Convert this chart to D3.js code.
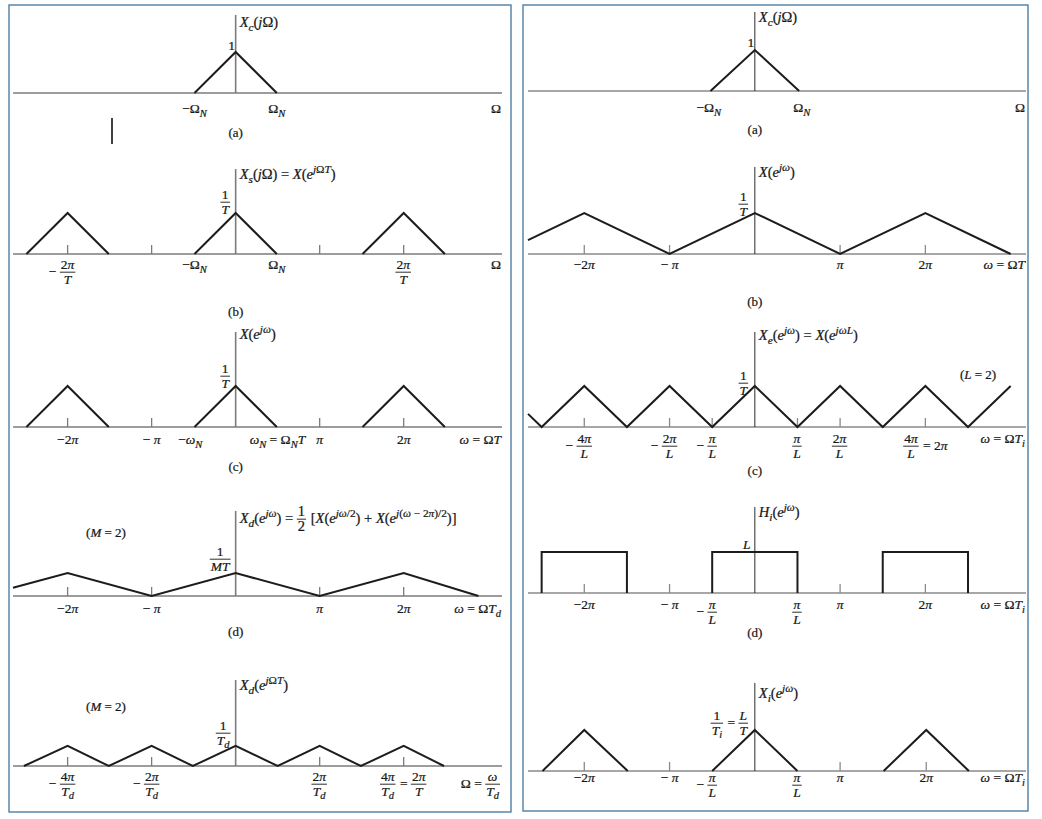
<!DOCTYPE html>
<html><head><meta charset="utf-8">
<script src="https://cdn.jsdelivr.net/npm/d3@7"></script>
<style>
body{margin:0;background:#fff}
svg{display:block}
text{font-family:"Liberation Serif","Times New Roman",serif;fill:#161616;stroke:#161616;stroke-width:0.22;white-space:pre}
</style>
</head><body>
<svg id="c" width="1042" height="819"></svg>
<script>
// ================= DATA (x in units of π on each panel's frequency axis, y relative to peak 1/T) =================
// Left column (sampling / downsampling)
const curvesLA = [[[-0.49,0],[0,1],[0.49,0]]];
const curvesLB = [[[-2.49,0],[-2,1],[-1.51,0]],[[-0.49,0],[0,1],[0.49,0]],[[1.51,0],[2,1],[2.49,0]]];
const curvesLC = [[[-2.49,0],[-2,1],[-1.51,0]],[[-0.49,0],[0,1],[0.49,0]],[[1.51,0],[2,1],[2.49,0]]];
const curvesLD = [[[-2.65,0.2],[-2,0.56],[-1,0],[0,0.56],[1,0],[2,0.56],[2.89,0]]];
const curvesLE = [[[-2.52,0],[-2,0.49],[-1.51,0],[-1,0.49],[-0.51,0],[0,0.49],[0.5,0],[1,0.49],[1.49,0],[2,0.49],[2.48,0]]];
// Right column (upsampling / interpolation)
const curvesRA = [[[-0.52,0],[0,1],[0.52,0]]];
const curvesRB = [[[-2.66,0.34],[-2,1],[-1,0],[0,1],[1,0],[2,1],[3,0]]];
const curvesRC = [[[-2.66,0.32],[-2.5,0],[-2,1],[-1.5,0],[-1,1],[-0.5,0],[0,1],[0.5,0],[1,1],[1.5,0],[2,1],[2.5,0],[3,1]]];
const curvesRD = [[[-2.5,0],[-2.5,1],[-1.5,1],[-1.5,0]],[[-0.5,0],[-0.5,1],[0.5,1],[0.5,0]],[[1.5,0],[1.5,1],[2.5,1],[2.5,0]]];
const curvesRE = [[[-2.49,0],[-2,1],[-1.49,0]],[[-0.5,0],[0,1],[0.5,0]],[[1.51,0],[2.01,1],[2.51,0]]];

// tick positions (units of π)
const ticksLA = [];
const ticksLB = [-2,-1,1,2];
const ticksLC = [-2,-1,1,2];
const ticksLD = [-2,-1,1,2];
const ticksLE = [-2,-1,1,2];
const ticksRA = [];
const ticksRB = [-2,-1,1,2];
const ticksRC = [-2,-1,-0.5,0.5,1,2];
const ticksRD = [-2,-1,1,2];
const ticksRE = [-2,-1,1,2.01];

// tick labels  (markup: *..* italic, _{..} subscript, ^{..} superscript; {n,d} = fraction)
const labelsLA = [
  {v:-0.49, items:["−Ω_{*N*}"]},
  {v:0.49, items:["Ω_{*N*}"]},
  {v:"end", items:["Ω"]}];
const labelsLB = [
  {v:-2, items:["− ",{n:"2π",d:"*T*"}], anchor:"frac"},
  {v:-0.49, items:["−Ω_{*N*}"]},
  {v:0.49, items:["Ω_{*N*}"]},
  {v:2, items:[{n:"2π",d:"*T*"}]},
  {v:"end", items:["Ω"]}];
const labelsLC = [
  {v:-2, items:["−2π"]},
  {v:-1, items:["− π"]},
  {v:-0.54, items:["−ω_{*N*}"]},
  {v:0.167, items:["ω_{*N*} = Ω_{*N*}*T*"], anchor:"start"},
  {v:1, items:["π"]},
  {v:2, items:["2π"]},
  {v:"end", items:["ω = Ω*T*"]}];
const labelsLD = [
  {v:-2, items:["−2π"]},
  {v:-1, items:["− π"]},
  {v:1, items:["π"]},
  {v:2, items:["2π"]},
  {v:"end", items:["ω = Ω*T*_{*d*}"]}];
const labelsLE = [
  {v:-2, items:["− ",{n:"4π",d:"*T*_{*d*}"}], anchor:"frac"},
  {v:-1, items:["− ",{n:"2π",d:"*T*_{*d*}"}], anchor:"frac"},
  {v:1, items:[{n:"2π",d:"*T*_{*d*}"}]},
  {v:2, items:[{n:"4π",d:"*T*_{*d*}"}," = ",{n:"2π",d:"*T*"}]},
  {v:"end", items:["Ω = ",{n:"ω",d:"*T*_{*d*}"}]}];
const labelsRA = [
  {v:-0.54, items:["−Ω_{*N*}"]},
  {v:0.55, items:["Ω_{*N*}"]},
  {v:"end", items:["Ω"]}];
const labelsRB = [
  {v:-2, items:["−2π"]},
  {v:-1, items:["− π"]},
  {v:1, items:["π"]},
  {v:2, items:["2π"]},
  {v:"end", items:["ω = Ω*T*"]}];
const labelsRC = [
  {v:-2, items:["− ",{n:"4π",d:"*L*"}], anchor:"frac"},
  {v:-1, items:["− ",{n:"2π",d:"*L*"}], anchor:"frac"},
  {v:-0.5, items:["− ",{n:"π",d:"*L*"}], anchor:"frac"},
  {v:0.5, items:[{n:"π",d:"*L*"}]},
  {v:1, items:[{n:"2π",d:"*L*"}]},
  {v:2, items:[{n:"4π",d:"*L*"}," = 2π"]},
  {v:"end", items:["ω = Ω*T*_{*i*}"]}];
const labelsRD = [
  {v:-2, items:["−2π"]},
  {v:-1, items:["− π"]},
  {v:-0.5, items:["− ",{n:"π",d:"*L*"}], anchor:"frac"},
  {v:0.5, items:[{n:"π",d:"*L*"}]},
  {v:1, items:["π"]},
  {v:2, items:["2π"]},
  {v:"end", items:["ω = Ω*T*_{*i*}"]}];
const labelsRE = [
  {v:-2, items:["−2π"]},
  {v:-1, items:["− π"]},
  {v:-0.5, items:["− ",{n:"π",d:"*L*"}], anchor:"frac"},
  {v:0.5, items:[{n:"π",d:"*L*"}]},
  {v:1, items:["π"]},
  {v:2.01, items:["2π"]},
  {v:"end", items:["ω = Ω*T*_{*i*}"]}];

// vertical-axis titles
const titleLA = ["*X*_{*c*}(*j*Ω)"];
const titleLB = ["*X*_{*s*}(*j*Ω) = *X*(*e*^{*j*Ω*T*})"];
const titleLC = ["*X*(*e*^{*j*ω})"];
const titleLD = ["*X*_{*d*}(*e*^{*j*ω}) = ",{n:"1",d:"2"}," [*X*(*e*^{*j*ω/2}) + *X*(*e*^{*j*(ω − 2π)/2})]"];
const titleLE = ["*X*_{*d*}(*e*^{*j*Ω*T*})"];
const titleRA = ["*X*_{*c*}(*j*Ω)"];
const titleRB = ["*X*(*e*^{*j*ω})"];
const titleRC = ["*X*_{*e*}(*e*^{*j*ω}) = *X*(*e*^{*j*ω*L*})"];
const titleRD = ["*H*_{*i*}(*e*^{*j*ω})"];
const titleRE = ["*X*_{*i*}(*e*^{*j*ω})"];

// peak-height labels
const peakLA = ["1"];
const peakLB = [{n:"1",d:"*T*"}];
const peakLC = [{n:"1",d:"*T*"}];
const peakLD = [{n:"1",d:"*MT*"}];
const peakLE = [{n:"1",d:"*T*_{*d*}"}];
const peakRA = ["1"];
const peakRB = [{n:"1",d:"*T*"}];
const peakRC = [{n:"1",d:"*T*"}];
const peakRD = ["*L*"];
const peakRE = [{n:"1",d:"*T*_{*i*}"}," = ",{n:"*L*",d:"*T*"}];

const captions = ["(a)","(b)","(c)","(d)"];
const noteM = ["(*M* = 2)"];
const noteL = ["(*L* = 2)"];

// ================= LAYOUT =================
const panels = [
  {frame:[9,5,502,807], domain:[-2.65,3.17], range:[13,502], hColor:"#7b7b7b", vColor:"#7b7b7b", vWidth:1.6},
  {frame:[523,5,505,806], domain:[-2.66,3.18], range:[528,1026], hColor:"#8a8a8a", vColor:"#2a2a2a", vWidth:1}
];
const subplots = [
  {p:0, axisY:93,  topY:15,  curves:curvesLA, ticks:ticksLA, labels:labelsLA, labelY:113, title:titleLA, titleY:27,  cap:0, capY:137, peak:peakLA, peakDx:-4,  peakY:50},
  {p:0, axisY:254, topY:169, curves:curvesLB, ticks:ticksLB, labels:labelsLB, labelY:269, title:titleLB, titleY:179, cap:1, capY:316, peak:peakLB, peakDx:-10, peakY:199},
  {p:0, axisY:427, topY:332, curves:curvesLC, ticks:ticksLC, labels:labelsLC, labelY:444, title:titleLC, titleY:339, cap:2, capY:471, peak:peakLC, peakDx:-10, peakY:373},
  {p:0, axisY:596, topY:511, curves:curvesLD, ticks:ticksLD, labels:labelsLD, labelY:613, title:titleLD, titleY:523, cap:3, capY:636, peak:peakLD, peakDx:-15, peakY:556},
  {p:0, axisY:766, topY:680, curves:curvesLE, ticks:ticksLE, labels:labelsLE, labelY:781, title:titleLE, titleY:690, cap:-1, capY:0,  peak:peakLE, peakDx:-12, peakY:730},
  {p:1, axisY:91,  topY:12,  curves:curvesRA, ticks:ticksRA, labels:labelsRA, labelY:112, title:titleRA, titleY:22,  cap:0, capY:134, peak:peakRA, peakDx:-4,  peakY:47},
  {p:1, axisY:254, topY:167, curves:curvesRB, ticks:ticksRB, labels:labelsRB, labelY:269, title:titleRB, titleY:177, cap:1, capY:306, peak:peakRB, peakDx:-11, peakY:201},
  {p:1, axisY:427, topY:332, curves:curvesRC, ticks:ticksRC, labels:labelsRC, labelY:443, title:titleRC, titleY:340, cap:2, capY:475, peak:peakRC, peakDx:-11, peakY:380},
  {p:1, axisY:593, topY:507, curves:curvesRD, ticks:ticksRD, labels:labelsRD, labelY:609, title:titleRD, titleY:517, cap:3, capY:637, peak:peakRD, peakDx:-8,  peakY:549},
  {p:1, axisY:771, topY:683, curves:curvesRE, ticks:ticksRE, labels:labelsRE, labelY:782, title:titleRE, titleY:698, cap:-1, capY:0,  peak:peakRE, peakDx:-25, peakY:720}
];
const notes = [
  {items:noteM, x:106, y:537},
  {items:noteM, x:106, y:711},
  {items:noteL, x:978, y:379}
];
const UNIT = 41;      // px per unit height
const FS = 13.5, FS_T = 14.5, FS_C = 13, SUB = 0.78;

// ================= RENDER =================
const svg = d3.select("#c");
svg.append("rect").attr("width",1042).attr("height",819).attr("fill","#fff");

function rich(t, src, fs){
  let italic=false; const stack=[0]; const runs=[]; let cur="", curIt=null;
  const lvl=()=>stack[stack.length-1];
  function push(ch, it){
    if(curIt!==null && (it!==curIt.i || lvl()!==curIt.l)){ runs.push({t:cur,i:curIt.i,l:curIt.l}); cur=""; curIt=null; }
    if(curIt===null) curIt={i:it,l:lvl()};
    cur+=ch;
  }
  function flush(){ if(cur){ runs.push({t:cur,i:curIt.i,l:curIt.l}); } cur=""; curIt=null; }
  for(let k=0;k<src.length;k++){
    const ch=src[k];
    if(ch==="*"){ italic=!italic; }
    else if((ch==="_"||ch==="^") && src[k+1]==="{"){ flush(); stack.push(ch==="_"?-1:1); k++; }
    else if(ch==="}" && stack.length>1){ flush(); stack.pop(); }
    else push(ch, italic || "πω".includes(ch));
  }
  flush();
  let shift=0;
  runs.forEach(r=>{
    const target = r.l===-1 ? 0.28*fs : r.l===1 ? -0.4*fs : 0;
    t.append("tspan").attr("dy", target-shift).attr("font-size", r.l ? SUB*fs : fs)
      .attr("font-style", r.i ? "italic" : "normal").text(r.t);
    shift=target;
  });
  t.attr("font-size", fs);
  return t;
}

// mode "top": y = baseline of single-line / numerator row; mode "inline": y = inline baseline
function layout(parent, items, x, y, anchor, fs, mode){
  const g = parent.append("g");
  const hasFrac = items.some(it=>typeof it!=="string");
  const base = (mode==="top" && hasFrac) ? y+7 : y;
  const bar = base-3.8;
  let cx=0; const placed=[];
  items.forEach(it=>{
    if(typeof it==="string"){
      const t=g.append("text").attr("x",cx).attr("y",base);
      rich(t,it,fs);
      const w=t.node().getComputedTextLength();
      placed.push({x0:cx,w}); cx+=w;
    } else {
      const n=rich(g.append("text").attr("y",bar-3.6).attr("text-anchor","middle"),it.n,fs);
      const d=rich(g.append("text").attr("y",bar+11.4).attr("text-anchor","middle"),it.d,fs);
      const w=Math.max(n.node().getComputedTextLength(), d.node().getComputedTextLength())+2;
      n.attr("x",cx+w/2); d.attr("x",cx+w/2);
      g.append("line").attr("x1",cx).attr("x2",cx+w).attr("y1",bar).attr("y2",bar)
        .attr("stroke","#161616").attr("stroke-width",0.9);
      placed.push({x0:cx,w,frac:true}); cx+=w+1;
    }
  });
  let sx;
  if(anchor==="start") sx=x;
  else if(anchor==="end") sx=x-cx;
  else if(anchor==="frac"){ const f=placed.find(p=>p.frac); sx=x-(f.x0+f.w/2); }
  else sx=x-cx/2;
  g.attr("transform",`translate(${sx},0)`);
  return g;
}

// frames
panels.forEach(P=>{
  svg.append("rect").attr("x",P.frame[0]).attr("y",P.frame[1]).attr("width",P.frame[2]).attr("height",P.frame[3])
    .attr("fill","none").attr("stroke","#4f7ea3").attr("stroke-width",1.4);
  P.x = d3.scaleLinear().domain(P.domain).range(P.range);
});

subplots.forEach(S=>{
  const P=panels[S.p], x=P.x;
  const y=d3.scaleLinear().domain([0,1]).range([S.axisY, S.axisY-UNIT]);
  const g=svg.append("g");
  const x0=x(0);
  g.append("line").attr("x1",P.range[0]).attr("x2",P.range[1]).attr("y1",S.axisY).attr("y2",S.axisY)
    .attr("stroke",P.hColor).attr("stroke-width",1.6);
  g.selectAll(".tk").data(S.ticks).enter().append("line")
    .attr("x1",d=>x(d)).attr("x2",d=>x(d)).attr("y1",S.axisY).attr("y2",S.axisY-9)
    .attr("stroke",P.hColor).attr("stroke-width",1.3);
  g.append("line").attr("x1",x0).attr("x2",x0).attr("y1",S.topY).attr("y2",S.axisY)
    .attr("stroke",P.vColor).attr("stroke-width",P.vWidth);
  const line=d3.line().x(d=>x(d[0])).y(d=>y(d[1]));
  g.selectAll(".cv").data(S.curves).enter().append("path")
    .attr("d",line).attr("fill","none").attr("stroke","#1c1c1c").attr("stroke-width",2)
    .attr("stroke-linejoin","miter");
  S.labels.forEach(L=>{
    if(L.v==="end") layout(g,L.items,P.range[1]-1,S.labelY,"end",FS,"top");
    else layout(g,L.items,x(L.v),S.labelY,L.anchor||"middle",FS,"top");
  });
  layout(g,S.title,x0+4,S.titleY,"start",FS_T,"inline");
  layout(g,S.peak,x0+S.peakDx,S.peakY,"middle",FS,"top");
  if(S.cap>=0) layout(g,[captions[S.cap]],x0,S.capY,"middle",FS_C,"inline");
});

notes.forEach(N=>layout(svg,N.items,N.x,N.y,"middle",FS_C,"inline"));

// stray text-cursor mark present in the source image
svg.append("line").attr("x1",112).attr("x2",112).attr("y1",118).attr("y2",144).attr("stroke","#000").attr("stroke-width",1.5);
</script>
</body></html>
